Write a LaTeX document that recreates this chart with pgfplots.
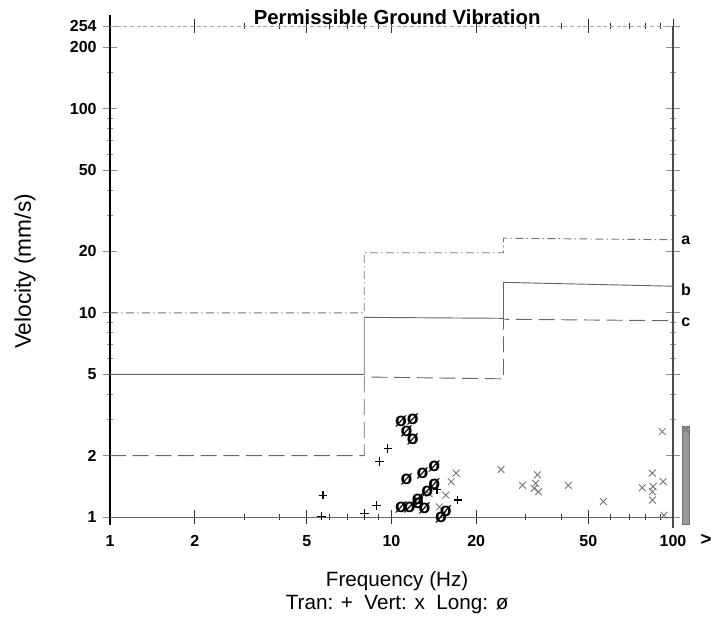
\documentclass[border=0pt]{standalone}
\usepackage{fontspec}
\setmainfont{Liberation Sans}
\usepackage{pgfplots}
\pgfplotsset{compat=1.18}
\begin{document}
\begin{tikzpicture}
\useasboundingbox (-82.5pt,-78pt) rectangle (450.75pt,387.75pt);
\begin{axis}[
  at={(0pt,0pt)}, anchor=south west,
  scale only axis, width=422.25pt, height=368.25pt,
  xmode=log, ymode=log,
  xmin=1, xmax=100, ymin=1, ymax=254,
  clip=false,
  axis line style={draw=none},
  xtick={1,2,5,10,20,50,100},
  xticklabels={1,2,5,10,20,50,100},
  minor xtick={3,4,6,7,8,9,30,40,60,70,80,90},
  ytick={1,2,5,10,20,50,100,200,254},
  yticklabels={1,2,5,10,20,50,100,200,254},
  minor ytick={3,4,6,7,8,9,30,40,60,70,80,90,150},
  tick align=center,
  major tick length=11pt, minor tick length=5pt,
  xtick style={black!80, line width=0.6pt},
  ytick style={black!45, line width=0.5pt},
  xticklabel style={font=\fontsize{12}{14}\selectfont\bfseries, yshift=-4.5pt},
  yticklabel style={font=\fontsize{12}{14}\selectfont\bfseries, xshift=-1pt},
  xlabel={Frequency (Hz)\\Tran: + \ Vert: x \ Long: ø},
  xlabel style={align=center, font=\fontsize{15.5}{17.25}\selectfont, at={(axis description cs:0.51,-0.155)}, anchor=center},
  ylabel={Velocity (mm/s)},
  ylabel style={font=\fontsize{17}{20}\selectfont, at={(axis description cs:-0.151,0.5)}, anchor=center},
]
% frame
\draw[black, line width=0.9pt] ([yshift=-6pt]rel axis cs:0,0) -- ([yshift=8pt]rel axis cs:0,1);
\draw[black!60, line width=0.6pt] (rel axis cs:0,0) -- (rel axis cs:1,0);
\draw[black!35, line width=0.5pt, densely dashed] (rel axis cs:0,1) -- (rel axis cs:1,1);
\draw[black!70, line width=0.8pt] ([yshift=-8pt]rel axis cs:1,0) -- (rel axis cs:1,1);

% limit lines
\addplot[black!55, line width=0.7pt, dash pattern=on 6pt off 2.5pt on 1pt off 2.5pt] coordinates {(1,10) (8,10) (8,19.7) (25,19.7) (25,23.2) (100,22.8)};
\addplot[black!60, line width=0.7pt] coordinates {(1,5) (8,5) (8,9.5) (25,9.4) (25,14.1) (100,13.5)};
\addplot[black!60, line width=0.7pt, dash pattern=on 12pt off 5pt] coordinates {(1,2) (8,2) (8,4.85) (25,4.75) (25,9.3) (100,9.15)};

% grey bar beyond 100 Hz
\addplot[fill=black!40, draw=black!55] coordinates {(108,0.92) (114,0.92) (114,2.77) (108,2.77)} -- cycle;

% Tran
\addplot[only marks, mark=+, mark size=3.2pt, black, line width=0.9pt] coordinates {
(5.71,1.28) (5.63,1.01) (8.02,1.04) (8.83,1.14) (9.07,1.87) (9.7,2.17) (17.2,1.21) (14.5,1.36)};
% Vert
\addplot[only marks, mark=x, mark size=3.6pt, black!55, line width=0.65pt] coordinates {
(16.96,1.64) (16.3,1.49) (13.6,1.30) (14.8,1.12) (15.6,1.28) (24.5,1.71) (29.2,1.43) (33.0,1.61)
(32.1,1.38) (33.3,1.33) (32.5,1.46) (42.5,1.43) (56.6,1.19) (77.8,1.39) (84.5,1.64) (85.0,1.41)
(84.5,1.33) (84.5,1.21) (92.2,1.49) (92.9,1.02) (91.6,2.62) (111,2.68)};
% Long
\addplot[only marks, mark=text, text mark={ø}, text mark as node=true,
  text mark style={font=\fontsize{14.5}{14.5}\selectfont\bfseries, inner sep=0pt, anchor=center}, black] coordinates {
(10.8,2.93) (11.9,2.99) (11.3,2.62) (11.9,2.39) (11.3,1.52) (12.9,1.64) (14.2,1.76) (14.2,1.44)
(13.4,1.33) (10.8,1.12) (11.6,1.12) (12.4,1.16) (13.1,1.10) (15.0,1.0) (15.6,1.06) (12.4,1.22)};

% labels
\node[font=\fontsize{15.25}{18}\selectfont\bfseries, anchor=base] at ([yshift=1pt]rel axis cs:0.51,1) {Permissible Ground Vibration};
\node[font=\fontsize{12}{14}\selectfont\bfseries] at (axis description cs:1.023,0.564) {a};
\node[font=\fontsize{12}{14}\selectfont\bfseries] at (axis description cs:1.023,0.462) {b};
\node[font=\fontsize{12}{14}\selectfont\bfseries] at (axis description cs:1.023,0.397) {c};
\node[font=\fontsize{14}{16}\selectfont\bfseries] at (axis description cs:1.0586,-0.0468) {>};
\end{axis}
\end{tikzpicture}
\end{document}
